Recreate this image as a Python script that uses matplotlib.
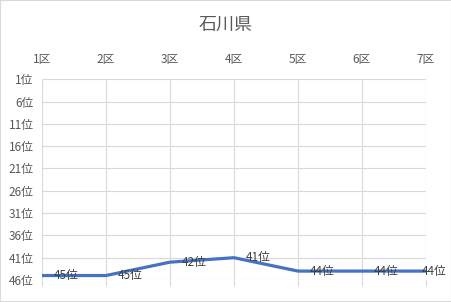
import matplotlib
matplotlib.use("Agg")
import matplotlib.pyplot as plt

plt.rcParams['font.family'] = ['Noto Sans CJK JP', 'DejaVu Sans']

categories = ["1区", "2区", "3区", "4区", "5区", "6区", "7区"]
ranks = [45, 45, 42, 41, 44, 44, 44]
ytick_vals = [1, 6, 11, 16, 21, 26, 31, 36, 41, 46]
ytick_labels = [f"{v}位" for v in ytick_vals]
title = "石川県"

fig = plt.figure(figsize=(4.52, 3.02), dpi=100)
fig.patch.set_facecolor("white")
ax = fig.add_axes([42/452, 1-280/302, (426-42)/452, (280-79.3)/302])

x = list(range(len(categories)))
ax.plot(x, ranks, color="#4472C4", lw=2.3, solid_capstyle="round", zorder=3)

for i, r in enumerate(ranks):
    dx = 8.6 if i < len(ranks) - 1 else -3
    ax.annotate(f"{r}位", (i, r), xytext=(dx, 0), textcoords="offset points",
                ha="left", va="center", fontsize=8.5, color="#404040", zorder=4)

ax.set_xlim(0, len(categories) - 1)
ax.set_ylim(46, 1)
ax.set_yticks(ytick_vals)
ax.set_yticklabels(ytick_labels)
ax.set_xticks(x)
ax.set_xticklabels(categories)
ax.xaxis.tick_top()
ax.tick_params(axis="x", which="both", top=False, bottom=True, labelbottom=False, labeltop=True,
               length=4.5, color="#d9d9d9", width=0.8, pad=5, labelsize=8.5, labelcolor="#595959")
ax.tick_params(axis="y", length=0, pad=6, labelsize=8.5, labelcolor="#595959")
ax.grid(True, color="#d9d9d9", lw=0.8)
for s in ax.spines.values():
    s.set_visible(False)
ax.set_axisbelow(True)

fig.text(0.5, 1-25/302, title, ha="center", va="center", fontsize=13, color="#595959")

border = plt.Rectangle((0, 0), 1, 1, transform=fig.transFigure, fill=False,
                       edgecolor="#d9d9d9", lw=1.5)
fig.patches.append(border)

fig.savefig("out.png", dpi=100)
